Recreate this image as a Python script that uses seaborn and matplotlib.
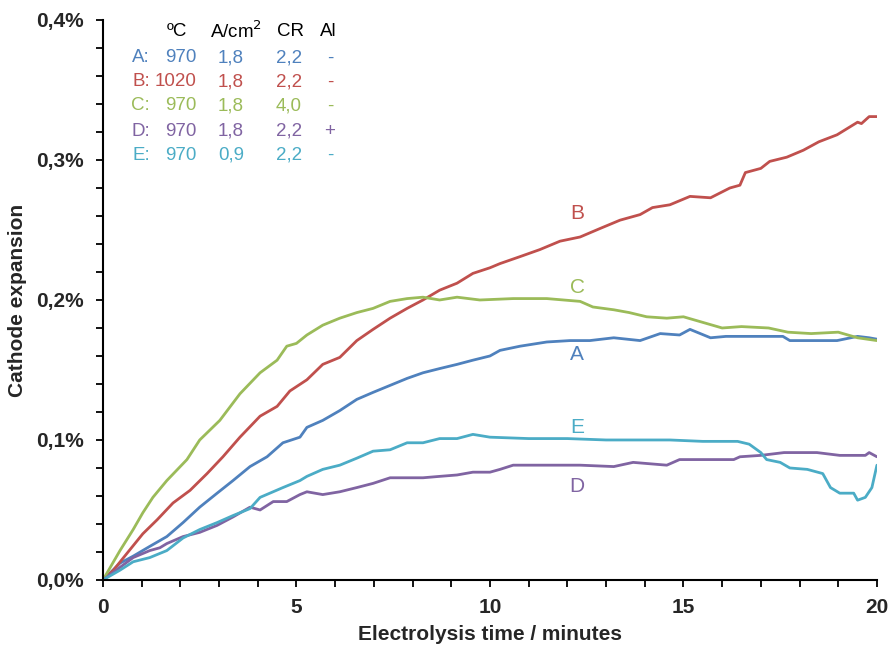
import pandas as pd
import numpy as np
import matplotlib
matplotlib.use("Agg")
import matplotlib.pyplot as plt
import seaborn as sns
from matplotlib.ticker import MultipleLocator, FuncFormatter

# time (minutes) and cathode expansion (%)
t_A = [0, 0.44, 0.78, 1.21, 1.65, 2.07, 2.5, 2.95, 3.36, 3.8, 4.24, 4.65, 5.09, 5.27, 5.68, 6.12, 6.56, 6.98,
       7.42, 7.86, 8.27, 8.7, 9.15, 9.56, 10.0, 10.26, 10.78, 11.47, 12.07, 12.58, 13.2, 13.88, 14.4, 14.9,
       15.17, 15.7, 16.1, 16.8, 17.57, 17.75, 18.45, 18.97, 19.5, 19.8, 20]
v_A = [0, .012, .017, .024, .031, .041, .052, .062, .071, .081, .088, .098, .102, .109, .114, .121, .129, .134,
       .139, .144, .148, .151, .154, .157, .160, .164, .167, .170, .171, .171, .173, .171, .176, .175,
       .179, .173, .174, .174, .174, .171, .171, .171, .174, .173, .172]

t_B = [0, 0.27, 0.62, 1.03, 1.4, 1.81, 2.25, 2.69, 3.1, 3.54, 4.06, 4.5, 4.83, 5.27, 5.68, 6.12, 6.56, 6.98,
       7.42, 7.86, 8.27, 8.7, 9.15, 9.56, 10.0, 10.26, 10.78, 11.29, 11.81, 12.33, 12.84, 13.36, 13.88, 14.2,
       14.65, 15.17, 15.7, 16.2, 16.46, 16.6, 17.0, 17.23, 17.67, 18.1, 18.5, 18.97, 19.5, 19.6, 19.8, 20]
v_B = [0, .007, .019, .033, .043, .055, .064, .076, .088, .102, .117, .124, .135, .143, .154, .159, .171, .179,
       .187, .194, .200, .207, .212, .219, .223, .226, .231, .236, .242, .245, .251, .257, .261, .266,
       .268, .274, .273, .280, .282, .291, .294, .299, .302, .307, .313, .318, .327, .326, .331, .331]

t_C = [0, 0.44, 0.78, 1.03, 1.29, 1.65, 2.17, 2.5, 3.02, 3.54, 4.06, 4.5, 4.75, 5.0, 5.27, 5.68, 6.12, 6.56,
       6.98, 7.42, 7.86, 8.27, 8.7, 9.15, 9.74, 10.6, 11.47, 12.33, 12.66, 13.2, 13.6, 14.05, 14.57, 15.0,
       15.5, 16.0, 16.5, 17.2, 17.7, 18.3, 19.0, 19.5, 20]
v_C = [0, .021, .036, .048, .059, .071, .086, .100, .114, .133, .148, .157, .167, .169, .175, .182, .187, .191,
       .194, .199, .201, .202, .200, .202, .200, .201, .201, .199, .195, .193, .191, .188, .187, .188,
       .184, .180, .181, .180, .177, .176, .177, .173, .171]

t_D = [0, 0.44, 0.78, 1.21, 1.47, 1.65, 2.07, 2.5, 2.95, 3.36, 3.8, 4.06, 4.4, 4.75, 5.09, 5.27, 5.68, 6.12,
       6.56, 6.98, 7.42, 7.86, 8.27, 8.7, 9.15, 9.56, 10.0, 10.26, 10.6, 11.47, 12.33, 13.2, 13.7, 14.57,
       14.9, 16.3, 16.46, 17.0, 17.6, 18.45, 19.04, 19.7, 19.8, 20]
v_D = [0, .009, .016, .021, .023, .026, .031, .034, .039, .045, .052, .050, .056, .056, .061, .063, .061, .063,
       .066, .069, .073, .073, .073, .074, .075, .077, .077, .079, .082, .082, .082, .081, .084, .082,
       .086, .086, .088, .089, .091, .091, .089, .089, .091, .088]

t_E = [0, 0.44, 0.78, 1.21, 1.65, 2.07, 2.5, 2.95, 3.36, 3.8, 4.06, 4.65, 5.09, 5.27, 5.68, 6.12, 6.56, 6.98,
       7.42, 7.86, 8.27, 8.7, 9.15, 9.56, 10.0, 11.0, 12.0, 13.0, 14.0, 14.65, 15.5, 16.4, 16.7, 17.0,
       17.15, 17.5, 17.75, 18.2, 18.6, 18.8, 19.04, 19.4, 19.5, 19.7, 19.87, 20]
v_E = [0, .007, .013, .016, .021, .030, .036, .041, .046, .051, .059, .066, .071, .074, .079, .082, .087, .092,
       .093, .098, .098, .101, .101, .104, .102, .101, .101, .100, .100, .100, .099, .099, .097, .091,
       .086, .084, .080, .079, .076, .066, .062, .062, .057, .059, .066, .082]

series = ["A", "B", "C", "D", "E"]
colors = ["#4F81BD", "#C0504D", "#9BBB59", "#8064A2", "#4BACC6"]

# condition table
temps = ["970", "1020", "970", "970", "970"]
current = ["1,8", "1,8", "1,8", "1,8", "0,9"]
cr = ["2,2", "2,2", "4,0", "2,2", "2,2"]
al = ["-", "-", "-", "+", "-"]

# curve labels placed on the chart
label_t = [12.25, 12.25, 12.25, 12.25, 12.25]
label_v = [0.161, 0.262, 0.209, 0.067, 0.109]

frames = []
for name, t, v in zip(series, [t_A, t_B, t_C, t_D, t_E], [v_A, v_B, v_C, v_D, v_E]):
    frames.append(pd.DataFrame({"time": t, "expansion": v, "run": name}))
df = pd.concat(frames, ignore_index=True)

sns.set_style("ticks")
plt.rcParams['font.family'] = ['Liberation Sans', 'DejaVu Sans']

fig = plt.figure(figsize=(8.93, 6.47), dpi=100)
ax = fig.add_axes([0.1153, 0.1036, 0.8667, 0.8655])

sns.lineplot(data=df, x="time", y="expansion", hue="run", hue_order=series,
             palette=colors, linewidth=2, legend=False, ax=ax, sort=False)

ax.set_xlim(0, 20)
ax.set_ylim(0, 0.4)
ax.xaxis.set_major_locator(MultipleLocator(5))
ax.xaxis.set_minor_locator(MultipleLocator(1))
ax.yaxis.set_major_locator(MultipleLocator(0.1))
ax.yaxis.set_minor_locator(MultipleLocator(0.02))
ax.yaxis.set_major_formatter(FuncFormatter(lambda y, p: f"{y:.1f}%".replace(".", ",")))
ax.tick_params(which="both", direction="out", length=5, width=1.3, color="black")
ax.tick_params(which="major", labelsize=15)
ax.tick_params(axis="y", which="major", pad=9)
ax.tick_params(axis="x", which="major", pad=8)
for lab in ax.get_xticklabels() + ax.get_yticklabels():
    lab.set_fontweight("bold")

sns.despine(ax=ax)
for s in ["left", "bottom"]:
    ax.spines[s].set_linewidth(1.5)
    ax.spines[s].set_color("black")

ax.set_xlabel("Electrolysis time / minutes", fontsize=15, fontweight="bold", labelpad=6)
ax.set_ylabel("Cathode expansion", fontsize=15, fontweight="bold", labelpad=6)

for name, c, lt, lv in zip(series, colors, label_t, label_v):
    ax.text(lt, lv, name, color=c, fontsize=15, ha="center", va="center")

# condition table in the top left corner
fs = 13.5
hy = 0.952
for txt, xx in zip(["ºC", "A/cm$^2$", "CR", "Al"], [177, 236, 291, 328]):
    fig.text(xx / 893, hy, txt, fontsize=fs, ha="center", va="center", color="black")
row_y = [58, 82, 106, 131, 155]
for i, name in enumerate(series):
    yy = 1 - row_y[i] / 647
    c = colors[i]
    fig.text(150 / 893, yy, name + ":", fontsize=fs, ha="right", va="center", color=c)
    fig.text(197 / 893, yy, temps[i], fontsize=fs, ha="right", va="center", color=c)
    fig.text(231 / 893, yy, current[i], fontsize=fs, ha="center", va="center", color=c)
    fig.text(289 / 893, yy, cr[i], fontsize=fs, ha="center", va="center", color=c)
    fig.text(330 / 893, yy, al[i], fontsize=fs, ha="center", va="center", color=c)

fig.savefig("out.png", dpi=100)
